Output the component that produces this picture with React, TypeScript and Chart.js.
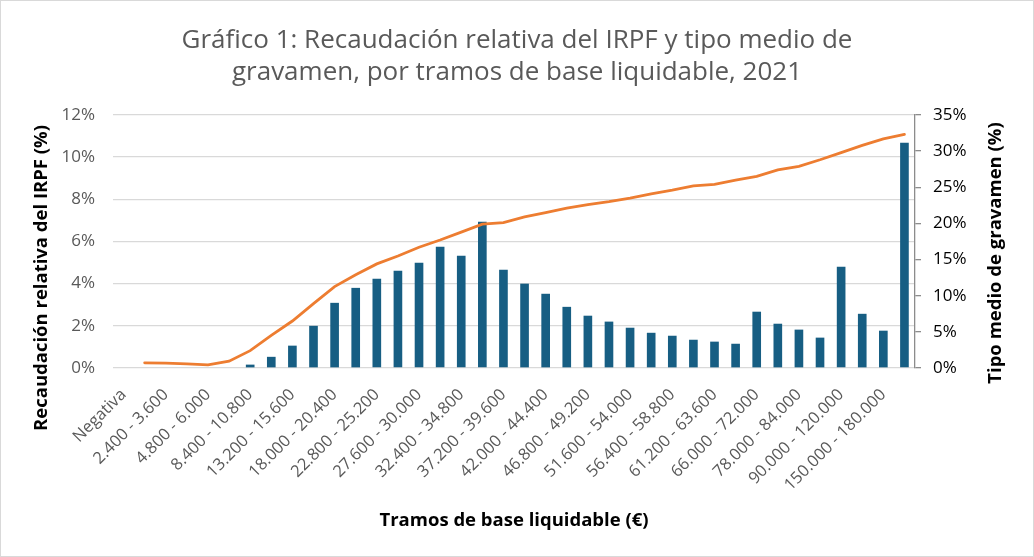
import React, { useEffect, useRef } from 'react';
import { Chart, registerables } from 'chart.js';

Chart.register(...registerables);

const tramos = [
  'Negativa', '0 - 2.400', '2.400 - 3.600', '3.600 - 4.800', '4.800 - 6.000',
  '6.000 - 8.400', '8.400 - 10.800', '10.800 - 13.200', '13.200 - 15.600',
  '15.600 - 18.000', '18.000 - 20.400', '20.400 - 22.800', '22.800 - 25.200',
  '25.200 - 27.600', '27.600 - 30.000', '30.000 - 32.400', '32.400 - 34.800',
  '34.800 - 37.200', '37.200 - 39.600', '39.600 - 42.000', '42.000 - 44.400',
  '44.400 - 46.800', '46.800 - 49.200', '49.200 - 51.600', '51.600 - 54.000',
  '54.000 - 56.400', '56.400 - 58.800', '58.800 - 61.200', '61.200 - 63.600',
  '63.600 - 66.000', '66.000 - 72.000', '72.000 - 78.000', '78.000 - 84.000',
  '84.000 - 90.000', '90.000 - 120.000', '120.000 - 150.000', '150.000 - 180.000',
  'Más de 180.000',
];

// % of IRPF revenue per bracket (left axis)
const recaudacion = [
  0, 0, 0, 0, 0, 0, 0.16, 0.53, 1.06, 2.0, 3.09, 3.8, 4.23, 4.61, 4.99, 5.75,
  5.32, 6.93, 4.66, 4.0, 3.52, 2.9, 2.48, 2.2, 1.91, 1.67, 1.53, 1.34, 1.25,
  1.15, 2.67, 2.1, 1.82, 1.44, 4.8, 2.57, 1.77, 10.68,
];

// average tax rate (right axis)
const tipoMedio = [
  null, 0.72, 0.68, 0.58, 0.44, 0.94, 2.4, 4.5, 6.5, 8.9, 11.26, 12.9, 14.4,
  15.5, 16.7, 17.7, 18.8, 19.9, 20.1, 20.9, 21.5, 22.1, 22.6, 23.0, 23.5, 24.1,
  24.6, 25.2, 25.4, 26.0, 26.5, 27.4, 27.9, 28.8, 29.8, 30.8, 31.7, 32.3,
];

const FONT = 'Open Sans';

// y axis titles drawn by hand so the right one reads bottom-to-top like Excel
const axisTitles = {
  id: 'axisTitles',
  afterDraw(chart: Chart) {
    const { ctx, chartArea } = chart;
    const draw = (text: string, x: number, y: number) => {
      ctx.save();
      ctx.fillStyle = '#000';
      ctx.font = `bold 18.5px "${FONT}"`;
      ctx.textAlign = 'center';
      ctx.textBaseline = 'middle';
      ctx.translate(x, y);
      ctx.rotate(-Math.PI / 2);
      ctx.fillText(text, 0, 0);
      ctx.restore();
    };
    draw('Recaudación relativa del IRPF (%)', 41, chartArea.top + 163);
    draw('Tipo medio de gravamen (%)', 995, chartArea.top + 138);
  },
};

const App: React.FC = () => {
  const chartRef = useRef<HTMLCanvasElement>(null);
  const chartInstance = useRef<Chart | null>(null);

  useEffect(() => {
    document.body.style.margin = '0';
    if (chartRef.current) {
      const ctx = chartRef.current.getContext('2d');
      if (ctx) {
        if (chartInstance.current) {
          chartInstance.current.destroy();
        }

        chartInstance.current = new Chart(ctx, {
          type: 'bar',
          data: {
            labels: tramos,
            datasets: [
              {
                type: 'line',
                label: 'Tipo medio de gravamen',
                data: tipoMedio,
                yAxisID: 'y1',
                borderColor: '#ED7D31',
                borderWidth: 2.8,
                pointRadius: 0,
                tension: 0,
                borderCapStyle: 'round',
                order: 0,
              },
              {
                type: 'bar',
                label: 'Recaudación relativa',
                data: recaudacion,
                yAxisID: 'y',
                backgroundColor: '#175E83',
                barPercentage: 0.41,
                categoryPercentage: 1,
                order: 1,
              },
            ],
          },
          options: {
            responsive: false,
            animation: false,
            layout: {
              padding: { left: 0, right: 0, top: 0, bottom: 14 },
            },
            plugins: {
              legend: { display: false },
              tooltip: { enabled: false },
              title: {
                display: true,
                text: [
                  'Gráfico 1: Recaudación relativa del IRPF y tipo medio de',
                  'gravamen, por tramos de base liquidable, 2021',
                ],
                color: '#595959',
                font: { family: FONT, size: 26, weight: 'normal', lineHeight: 1.23 },
                padding: { top: 24, bottom: 26 },
              },
            },
            scales: {
              x: {
                grid: { display: false },
                border: { display: false },
                ticks: {
                  autoSkip: false,
                  minRotation: 45,
                  maxRotation: 45,
                  padding: 9,
                  color: '#595959',
                  font: { family: FONT, size: 16.5 },
                  callback: (_v, i) => (i % 2 === 0 ? tramos[i] : ''),
                },
                title: {
                  display: true,
                  text: 'Tramos de base liquidable (€)',
                  color: '#000',
                  font: { family: FONT, size: 18.5, weight: 'bold' },
                  padding: { top: 0, bottom: 10 },
                },
                afterFit: (s: any) => {
                  s.height = 174;
                },
              },
              y: {
                position: 'left',
                min: 0,
                max: 12,
                grid: { color: '#D9D9D9', lineWidth: 1.3, drawTicks: false },
                border: { display: false },
                ticks: {
                  stepSize: 2,
                  padding: 18,
                  color: '#595959',
                  font: { family: FONT, size: 17 },
                  callback: (v) => `${v}%`,
                },
                afterFit: (s: any) => {
                  s.width = 112;
                },
              },
              y1: {
                position: 'right',
                min: 0,
                max: 35,
                grid: {
                  drawOnChartArea: false,
                  color: '#8C8C8C',
                  tickLength: 6,
                  lineWidth: 1.3,
                },
                border: { display: true, color: '#8C8C8C', width: 1.3 },
                ticks: {
                  stepSize: 5,
                  padding: 12,
                  color: '#000',
                  font: { family: FONT, size: 17 },
                  callback: (v) => `${v}%`,
                },
                afterFit: (s: any) => {
                  s.width = 1034 - 916;
                },
              },
            },
          },
          plugins: [axisTitles],
        });
      }
    }

    return () => {
      if (chartInstance.current) {
        chartInstance.current.destroy();
      }
    };
  }, []);

  return (
    <div
      style={{
        width: 1034,
        height: 557,
        boxSizing: 'border-box',
        border: '1px solid #D9D9D9',
        background: '#fff',
        overflow: 'hidden',
      }}
    >
      <canvas ref={chartRef} width={1032} height={555} style={{ display: 'block' }} />
    </div>
  );
};

export default App;
